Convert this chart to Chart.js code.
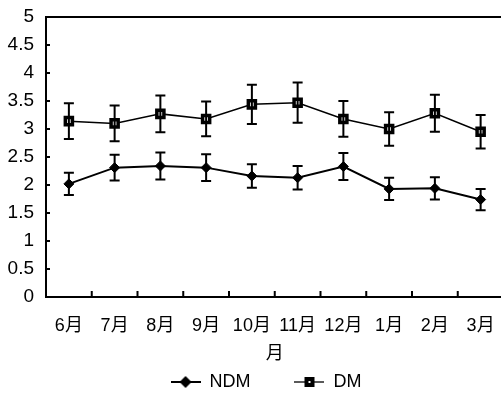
<!DOCTYPE html>
<html>
<head>
<meta charset="utf-8">
<script src="https://cdn.jsdelivr.net/npm/chart.js@4/dist/chart.umd.min.js"></script>
<style>
  html, body { margin: 0; padding: 0; background: #fff; overflow: hidden; }
  #wrap { width: 512px; height: 393px; position: relative; }
</style>
</head>
<body>
<div id="wrap"><canvas id="myChart"></canvas></div>
<script>
// data
const months = ['6月', '7月', '8月', '9月', '10月', '11月', '12月', '1月', '2月', '3月'];
const ndm    = [2.02, 2.31, 2.34, 2.31, 2.16, 2.13, 2.33, 1.93, 1.94, 1.74];
const ndmErr = [0.20, 0.23, 0.24, 0.24, 0.21, 0.21, 0.24, 0.20, 0.20, 0.19];
const dm     = [3.14, 3.10, 3.27, 3.18, 3.44, 3.47, 3.18, 3.00, 3.28, 2.95];
const dmErr  = [0.32, 0.32, 0.33, 0.31, 0.35, 0.36, 0.32, 0.30, 0.33, 0.30];
const yTicks = [0, 0.5, 1, 1.5, 2, 2.5, 3, 3.5, 4, 4.5, 5];

const FONT = "'Liberation Sans', Arial, 'Noto Sans CJK SC', sans-serif";

// legend symbols: line with the marker in the middle
function legendIcon(kind) {
    const c = document.createElement('canvas');
    c.width = 30; c.height = 14;
    const g = c.getContext('2d');
    g.strokeStyle = '#000';
    g.lineWidth = kind == 'diamond' ? 2 : 1.3;
    g.beginPath(); g.moveTo(0, 7); g.lineTo(30, 7); g.stroke();
    g.fillStyle = '#000';
    if (kind == 'diamond') {
        g.beginPath(); g.moveTo(15, 1); g.lineTo(21, 7); g.lineTo(15, 13); g.lineTo(9, 7); g.closePath(); g.fill();
    } else {
        g.fillRect(10, 2, 10, 10);
        g.fillStyle = '#fff';
        g.fillRect(14, 6, 2, 2);
    }
    return c;
}

// error bars + inner tick marks + top frame line
const extras = {
    id: 'extras',
    afterInit(chart) {
        // keep the legend strip short
        const fit = chart.legend.fit;
        chart.legend.fit = function() { fit.call(this); this.height = 28; };
    },
    afterLayout(chart) {
        // legend sits a little right of centre in the original
        chart.legend.left += 22;
    },
    afterDatasetsDraw(chart) {
        const ctx = chart.ctx;
        const x = chart.scales.x, y = chart.scales.y;
        const sets = [[ndm, ndmErr], [dm, dmErr]];
        ctx.save();
        ctx.strokeStyle = '#000';
        ctx.lineWidth = 2;
        sets.forEach(([vals, errs]) => {
            vals.forEach((v, i) => {
                const px = x.getPixelForValue(i);
                const top = y.getPixelForValue(v + errs[i]);
                const bot = y.getPixelForValue(v - errs[i]);
                ctx.beginPath();
                ctx.moveTo(px, top); ctx.lineTo(px, bot);
                ctx.moveTo(px - 5, top); ctx.lineTo(px + 5, top);
                ctx.moveTo(px - 5, bot); ctx.lineTo(px + 5, bot);
                ctx.stroke();
            });
        });
        ctx.restore();
    },
    afterDraw(chart) {
        const ctx = chart.ctx;
        const a = chart.chartArea;
        const x = chart.scales.x, y = chart.scales.y;
        ctx.save();
        ctx.strokeStyle = '#000';
        ctx.lineWidth = 2;
        ctx.beginPath();
        ctx.moveTo(a.left, a.top); ctx.lineTo(chart.width, a.top);
        yTicks.forEach(t => {
            const py = y.getPixelForValue(t);
            ctx.moveTo(a.left, py); ctx.lineTo(a.left + 4, py);
        });
        for (let i = 1; i < months.length; i++) {
            const px = (x.getPixelForValue(i - 1) + x.getPixelForValue(i)) / 2;
            ctx.moveTo(px, a.bottom); ctx.lineTo(px, a.bottom - 6);
        }
        ctx.stroke();
        ctx.restore();
    }
};

Chart.defaults.font.family = FONT;
Chart.defaults.color = '#000';

const ctx = document.getElementById('myChart').getContext('2d');
const myChart = new Chart(ctx, {
    type: 'line',
    data: {
        labels: months,
        datasets: [{
            label: 'NDM',
            data: ndm,
            borderColor: '#000',
            backgroundColor: '#000',
            borderWidth: 2,
            pointStyle: 'rectRot',
            pointRadius: 5,
            pointBorderWidth: 1,
        },
        {
            label: 'DM',
            data: dm,
            borderColor: '#000',
            backgroundColor: '#fff',
            borderWidth: 1.5,
            pointStyle: 'rect',
            pointRadius: 5,
            pointBorderWidth: 3.5,
        }]
    },
    options: {
        responsive: true,
        maintainAspectRatio: false,
        animation: false,
        layout: { padding: { top: 17, right: 2, bottom: 0 } },
        plugins: {
            legend: {
                position: 'bottom',
                labels: {
                    usePointStyle: true,
                    pointStyleWidth: 30,
                    padding: 8,
                    font: { size: 18 },
                    generateLabels: () => [
                        { text: 'NDM\u2003\u2003', pointStyle: legendIcon('diamond'), datasetIndex: 0, lineWidth: 0 },
                        { text: 'DM', pointStyle: legendIcon('square'), datasetIndex: 1, lineWidth: 0 }
                    ]
                }
            },
            tooltip: { enabled: false }
        },
        scales: {
            x: {
                offset: true,
                grid: { display: false },
                border: { display: true, color: '#000', width: 2 },
                afterFit: s => { s.height = 68; },
                ticks: { font: { size: 18 }, padding: 10, maxRotation: 0, autoSkip: false },
                title: { display: true, text: '月', font: { size: 18 }, padding: { top: 2, bottom: 0 } }
            },
            y: {
                min: 0,
                max: 5,
                grid: { display: false },
                border: { display: true, color: '#000', width: 2 },
                afterBuildTicks: s => { s.ticks = yTicks.map(v => ({ value: v })); },
                afterFit: s => { s.width = 46; },
                ticks: { font: { size: 19 }, padding: 4, autoSkip: false, callback: v => String(v) }
            }
        }
    },
    plugins: [extras]
});
</script>
</body>
</html>
